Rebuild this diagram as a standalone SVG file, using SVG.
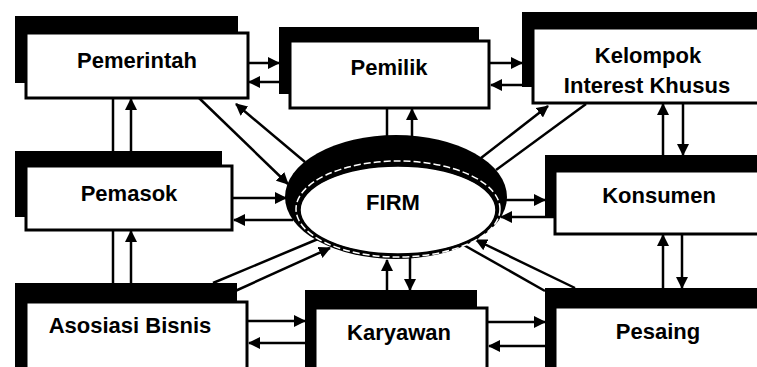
<svg xmlns="http://www.w3.org/2000/svg" width="757" height="367" viewBox="0 0 757 367">
  <style>
    .shadow { fill: #000; }
    .box { fill: #fff; stroke: #000; stroke-width: 3; }
    .label { font-family: "Liberation Sans", Arial, sans-serif; font-weight: bold; font-size: 22px; fill: #000; text-anchor: middle; }
    .conn line, .conn path { stroke: #000; stroke-width: 2.5; fill: none; }
  </style>
  <defs>
    <marker id="ah" viewBox="0 0 12 12" refX="11" refY="6" markerWidth="12" markerHeight="12" markerUnits="userSpaceOnUse" orient="auto">
      <path d="M0,0 L12,6 L0,12 z" fill="#000"/>
    </marker>
  </defs>
  <rect width="757" height="367" fill="#fff"/>

  <!-- connectors -->
  <g id="connectors" class="conn">
    <!-- Pemerintah / Pemilik -->
    <line x1="248" y1="63" x2="279" y2="63" marker-end="url(#ah)"/>
    <line x1="290" y1="82" x2="249" y2="82" marker-end="url(#ah)"/>
    <!-- Pemilik / Kelompok -->
    <line x1="490" y1="63" x2="522" y2="63" marker-end="url(#ah)"/>
    <line x1="533" y1="85" x2="491" y2="85" marker-end="url(#ah)"/>
    <!-- Pemerintah / Pemasok -->
    <line x1="113" y1="98" x2="113" y2="151"/>
    <line x1="131" y1="151" x2="131" y2="99" marker-end="url(#ah)"/>
    <!-- Pemasok / Asosiasi Bisnis -->
    <line x1="113" y1="230" x2="113" y2="283"/>
    <line x1="131" y1="283" x2="131" y2="231" marker-end="url(#ah)"/>
    <!-- Pemerintah / FIRM -->
    <line x1="199" y1="98" x2="288" y2="184" marker-end="url(#ah)"/>
    <line x1="305" y1="162" x2="236" y2="104" marker-end="url(#ah)"/>
    <!-- Pemasok / FIRM -->
    <line x1="233" y1="198" x2="286" y2="198" marker-end="url(#ah)"/>
    <line x1="293" y1="220" x2="234" y2="220" marker-end="url(#ah)"/>
    <!-- Asosiasi Bisnis / FIRM -->
    <line x1="213" y1="283" x2="318" y2="239"/>
    <line x1="233" y1="292" x2="330" y2="248" marker-end="url(#ah)"/>
    <!-- Pemilik / FIRM -->
    <line x1="387" y1="108" x2="387" y2="138"/>
    <line x1="412" y1="138" x2="412" y2="109" marker-end="url(#ah)"/>
    <!-- Kelompok / FIRM -->
    <line x1="481" y1="158" x2="548" y2="106" marker-end="url(#ah)"/>
    <line x1="586" y1="104" x2="496" y2="170"/>
    <!-- FIRM / Konsumen -->
    <line x1="505" y1="200" x2="545" y2="200" marker-end="url(#ah)"/>
    <line x1="555" y1="217" x2="501" y2="217" marker-end="url(#ah)"/>
    <!-- Kelompok / Konsumen -->
    <line x1="663" y1="155" x2="663" y2="104" marker-end="url(#ah)"/>
    <line x1="683" y1="103" x2="683" y2="155" marker-end="url(#ah)"/>
    <!-- Konsumen / Pesaing -->
    <line x1="663" y1="288" x2="663" y2="235" marker-end="url(#ah)"/>
    <line x1="682" y1="234" x2="682" y2="288" marker-end="url(#ah)"/>
    <!-- FIRM / Pesaing -->
    <line x1="575" y1="288" x2="476" y2="240" marker-end="url(#ah)"/>
    <line x1="545" y1="291" x2="462" y2="244"/>
    <!-- Karyawan / FIRM -->
    <line x1="387" y1="290" x2="387" y2="260" marker-end="url(#ah)"/>
    <line x1="410" y1="257" x2="410" y2="290" marker-end="url(#ah)"/>
    <!-- Asosiasi Bisnis / Karyawan -->
    <line x1="247" y1="321" x2="305" y2="321" marker-end="url(#ah)"/>
    <line x1="315" y1="343" x2="249" y2="343" marker-end="url(#ah)"/>
    <!-- Karyawan / Pesaing -->
    <line x1="487" y1="322" x2="545" y2="322" marker-end="url(#ah)"/>
    <line x1="555" y1="346" x2="489" y2="346" marker-end="url(#ah)"/>
  </g>

  <!-- central firm: thick dark rim, dashed white ring, white core -->
  <g id="firm">
    <ellipse cx="396" cy="197" rx="111" ry="62" fill="#000"/>
    <ellipse cx="398" cy="209" rx="102" ry="48" fill="none" stroke="#fff" stroke-width="1.5" stroke-dasharray="7 3"/>
    <ellipse cx="398" cy="210" rx="98" ry="44" fill="#fff" stroke="#000" stroke-width="1.5"/>
    <text class="label" x="393" y="210">FIRM</text>
  </g>

  <g id="pemerintah">
    <rect class="shadow" x="15" y="16" width="223" height="67"/>
    <rect class="box" x="26" y="33" width="222" height="65"/>
    <text class="label" x="137" y="68">Pemerintah</text>
  </g>

  <g id="pemilik">
    <rect class="shadow" x="279" y="27" width="200" height="67"/>
    <rect class="box" x="290" y="41" width="199" height="67"/>
    <text class="label" x="389" y="75">Pemilik</text>
  </g>

  <g id="kelompok">
    <rect class="shadow" x="522" y="12" width="250" height="75"/>
    <rect class="box" x="533" y="28" width="240" height="75"/>
    <text class="label" x="648" y="63">Kelompok</text>
    <text class="label" x="647" y="93">Interest Khusus</text>
  </g>

  <g id="pemasok">
    <rect class="shadow" x="15" y="151" width="207" height="66"/>
    <rect class="box" x="26" y="166" width="206" height="64"/>
    <text class="label" x="129" y="201">Pemasok</text>
  </g>

  <g id="konsumen">
    <rect class="shadow" x="545" y="155" width="230" height="63"/>
    <rect class="box" x="555" y="171" width="220" height="63"/>
    <text class="label" x="659" y="203">Konsumen</text>
  </g>

  <g id="asosiasi-bisnis">
    <rect class="shadow" x="15" y="283" width="222" height="90"/>
    <rect class="box" x="26" y="302" width="221" height="80"/>
    <text class="label" x="130" y="333">Asosiasi Bisnis</text>
  </g>

  <g id="karyawan">
    <rect class="shadow" x="305" y="290" width="172" height="90"/>
    <rect class="box" x="315" y="308" width="172" height="80"/>
    <text class="label" x="399" y="340">Karyawan</text>
  </g>

  <g id="pesaing">
    <rect class="shadow" x="545" y="288" width="230" height="90"/>
    <rect class="box" x="555" y="307" width="220" height="80"/>
    <text class="label" x="658" y="339">Pesaing</text>
  </g>
</svg>
